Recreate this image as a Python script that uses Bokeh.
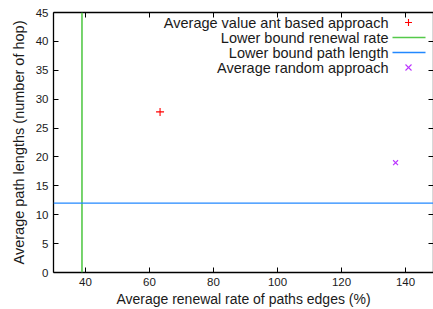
from bokeh.plotting import figure
from bokeh.models import Span, Label, Arrow, LinearAxis, FixedTicker, Range1d
from bokeh.embed import file_html
from bokeh.resources import INLINE

# data
ant_x = [63.3]
ant_y = [27.8]
rand_x = [136.9]
rand_y = [19.0]
lower_bound_renewal = 38.9
lower_bound_path = 12.0
x_ticks = [40, 60, 80, 100, 120, 140]
y_ticks = [0, 5, 10, 15, 20, 25, 30, 35, 40, 45]
legend_labels = ["Average value ant based approach", "Lower bound renewal rate",
                 "Lower bound path length", "Average random approach"]
x_title = "Average renewal rate of paths edges (%)"
y_title = "Average path lengths (number of hop)"

RED = "#ff0000"
GREEN = "#55c94a"
BLUE = "#2288ff"
PURPLE = "#bb33ff"
TXT = "#1a1a1a"
FONT = "Liberation Sans"

W, H = 433, 309
FL, FB = 53, 272  # frame left / bottom in page pixels
p = figure(width=W, height=H, output_backend="svg", toolbar_location=None,
           x_range=Range1d(30, 148.75), y_range=Range1d(0, 45),
           min_border_left=FL, min_border_right=0, min_border_top=12, min_border_bottom=H - FB)
p.grid.visible = False
p.outline_line_color = None
p.background_fill_color = "white"
p.border_fill_color = "white"

def style_axis(ax, ticks, labels=True):
    ax.ticker = FixedTicker(ticks=ticks)
    ax.major_tick_in = 5
    ax.major_tick_out = 0
    ax.minor_tick_line_color = None
    ax.axis_line_color = "black"
    ax.axis_line_width = 1.3
    ax.major_tick_line_color = "black"
    ax.major_label_text_font = FONT
    ax.major_label_text_font_size = "11.5px"
    ax.major_label_text_color = TXT
    ax.major_label_standoff = 5
    ax.axis_label_text_font = FONT
    ax.axis_label_text_font_size = "14.5px"
    ax.axis_label_text_font_style = "normal"
    ax.axis_label_text_color = TXT
    ax.axis_label_standoff = 6
    if not labels:
        ax.major_label_overrides = {t: "" for t in ticks}
        ax.major_label_standoff = 0

style_axis(p.xaxis[0], x_ticks)
style_axis(p.yaxis[0], y_ticks)
p.yaxis[0].axis_label = y_title
p.xaxis[0].axis_label = x_title
p.xaxis[0].axis_label_text_font_size = "14px"
p.xaxis[0].axis_label_standoff = 2

top = LinearAxis()
style_axis(top, x_ticks, labels=False)
p.add_layout(top, "above")
right = LinearAxis()
style_axis(right, y_ticks, labels=False)
p.add_layout(right, "right")

p.add_layout(Span(location=lower_bound_renewal, dimension="height", line_color=GREEN, line_width=1.6))
p.add_layout(Span(location=lower_bound_path, dimension="width", line_color=BLUE, line_width=1.4))

p.scatter(ant_x, ant_y, marker="cross", size=8, line_color=RED, line_width=1.1)
p.scatter(rand_x, rand_y, marker="x", size=7, line_color=PURPLE, line_width=1.1)

# screen units are frame-relative (x from frame left, y up from frame bottom)
def sx(ix):
    return ix - FL
def sy(iy):
    return FB - iy

# manual legend (gnuplot style: text left, sample right)
rows_y = [22, 37, 52, 67]
for lab, ry in zip(legend_labels, rows_y):
    p.add_layout(Label(x=sx(388), y=sy(ry), x_units="screen", y_units="screen", text=lab,
                       text_font=FONT, text_font_size="14.5px", text_color=TXT,
                       text_align="right", text_baseline="middle"))

def seg(x0, y0, x1, y1, color, w=1.4):
    p.add_layout(Arrow(end=None, x_start=sx(x0), y_start=sy(y0), x_end=sx(x1), y_end=sy(y1),
                       start_units="screen", end_units="screen", line_color=color, line_width=w))

seg(392, 37, 425, 37, GREEN, 1.6)
seg(392, 52, 425, 52, BLUE, 1.4)
cx, cy = 408, 22
seg(cx - 3.5, cy, cx + 3.5, cy, RED, 1.1)
seg(cx, cy - 3.5, cx, cy + 3.5, RED, 1.1)
cx, cy = 408, 67
seg(cx - 3, cy - 3, cx + 3, cy + 3, PURPLE, 1.1)
seg(cx - 3, cy + 3, cx + 3, cy - 3, PURPLE, 1.1)

open("out.html", "w").write(file_html(p, INLINE))
